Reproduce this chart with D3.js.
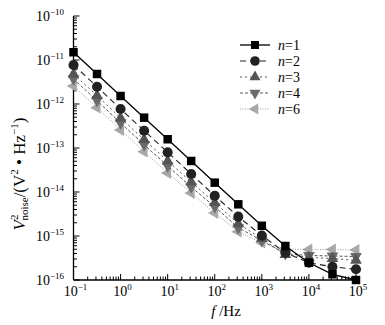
<!DOCTYPE html>
<html><head><meta charset="utf-8">
<script src="https://cdn.jsdelivr.net/npm/d3@7"></script>
<style>body{margin:0;background:#fff}svg text{font-family:"Liberation Serif","DejaVu Serif",serif;fill:#000}</style>
</head><body>
<svg id="c" width="385" height="325"></svg>
<script>
const freqs = [0.1, 0.316, 1, 3.16, 10, 31.6, 100, 316, 1000, 3162, 10000, 31623, 100000];
const n1 = [1.50e-11, 4.81e-12, 1.52e-12, 4.89e-13, 1.58e-13, 5.07e-14, 1.63e-14, 5.25e-15, 1.71e-15, 5.93e-16, 2.47e-16, 1.35e-16, 1.0e-16];
const n2 = [7.70e-12, 2.47e-12, 7.70e-13, 2.47e-13, 7.98e-14, 2.57e-14, 8.24e-15, 2.75e-15, 1.02e-15, 4.17e-16, 2.47e-16, 2.0e-16, 1.75e-16];
const n3 = [4.81e-12, 1.55e-12, 4.81e-13, 1.55e-13, 5.07e-14, 1.69e-14, 5.71e-15, 1.90e-15, 8.68e-16, 3.76e-16, 3.25e-16, 3.08e-16, 2.78e-16];
const n4 = [3.70e-12, 1.19e-12, 3.70e-13, 1.19e-13, 3.90e-14, 1.30e-14, 4.63e-15, 1.55e-15, 7.82e-16, 3.96e-16, 3.61e-16, 3.51e-16, 3.42e-16];
const n6 = [2.56e-12, 8.24e-13, 2.56e-13, 8.24e-14, 2.70e-14, 9.49e-15, 3.33e-15, 1.25e-15, 7.05e-16, 5.07e-16, 4.94e-16, 4.94e-16, 4.81e-16];
const seriesNames = ["1", "2", "3", "4", "6"];
const xTickExps = [-1, 0, 1, 2, 3, 4, 5];
const yTickExps = [-10, -11, -12, -13, -14, -15, -16];

const series = [
  {name: seriesNames[0], vals: n1, sym: d3.symbolSquare, size: 72, rot: 0, fill: "#000", stroke: "#000", dash: null, lw: 1.3},
  {name: seriesNames[1], vals: n2, sym: d3.symbolCircle, size: 80, rot: 0, fill: "#222", stroke: "#222", dash: "6,4", lw: 1.1},
  {name: seriesNames[2], vals: n3, sym: d3.symbolTriangle, size: 60, rot: 0, fill: "#555", stroke: "#555", dash: "2,3", lw: 1},
  {name: seriesNames[3], vals: n4, sym: d3.symbolTriangle, size: 60, rot: 180, fill: "#6a6a6a", stroke: "#555", dash: "3,2", lw: 1},
  {name: seriesNames[4], vals: n6, sym: d3.symbolTriangle, size: 60, rot: -90, fill: "#a8a8a8", stroke: "#999", dash: "1,1.5", lw: 1}
];

const svg = d3.select("#c");
const L = 73.5, R = 356, T = 16, B = 280;
const x = d3.scaleLog().domain([0.1, 1e5]).range([L, R]);
const y = d3.scaleLog().domain([1e-16, 1e-10]).range([B, T]);

// minor/major ticks
const g = svg.append("g");
for (let e = -1; e <= 5; e++) {
  for (let m = 1; m <= 9; m++) {
    const v = m * Math.pow(10, e);
    if (v > 1e5 * 1.0001) break;
    const len = m === 1 ? 6 : 3.5;
    g.append("line").attr("x1", x(v)).attr("x2", x(v)).attr("y1", B).attr("y2", B - len).attr("stroke", "#000").attr("stroke-width", 1);
  }
}
for (let e = -16; e <= -10; e++) {
  for (let m = 1; m <= 9; m++) {
    const v = m * Math.pow(10, e);
    if (v > 1e-10 * 1.0001) break;
    const len = m === 1 ? 6 : 3.5;
    g.append("line").attr("x1", L).attr("x2", L + len).attr("y1", y(v)).attr("y2", y(v)).attr("stroke", "#000").attr("stroke-width", 1);
  }
}
g.append("line").attr("x1", L).attr("x2", L).attr("y1", T).attr("y2", B).attr("stroke", "#000").attr("stroke-width", 1.3);
g.append("line").attr("x1", L).attr("x2", R).attr("y1", B).attr("y2", B).attr("stroke", "#000").attr("stroke-width", 1.3);

// tick labels
xTickExps.forEach(e => {
  const t = svg.append("text").attr("x", x(Math.pow(10, e)) + 2).attr("y", 296).attr("text-anchor", "middle").attr("font-size", 14);
  t.append("tspan").text("10");
  t.append("tspan").attr("dy", -6).attr("font-size", 9).text(e < 0 ? "\u2212" + (-e) : String(e));
});
yTickExps.forEach(e => {
  const t = svg.append("text").attr("x", 64).attr("y", y(Math.pow(10, e)) + 5).attr("text-anchor", "end").attr("font-size", 14);
  t.append("tspan").text("10");
  t.append("tspan").attr("dy", -6).attr("font-size", 9).text("\u2212" + (-e));
});

// axis titles
const xt = svg.append("text").attr("x", 226).attr("y", 316).attr("text-anchor", "middle").attr("font-size", 15);
xt.append("tspan").attr("font-style", "italic").text("f");
xt.append("tspan").text(" /Hz");

const yt = svg.append("text").attr("transform", "translate(25,174) rotate(-90)").attr("text-anchor", "middle").attr("font-size", 17);
yt.append("tspan").attr("font-style", "italic").text("V");
yt.append("tspan").attr("dy", -7).attr("font-size", 11).text("2");
yt.append("tspan").attr("dy", 10).attr("dx", -6).attr("font-size", 11).text("noise");
yt.append("tspan").attr("dy", -3).text("/(V");
yt.append("tspan").attr("dy", -7).attr("font-size", 11).text("2");
yt.append("tspan").attr("dy", 7).text(" \u2022 Hz");
yt.append("tspan").attr("dy", -7).attr("font-size", 11).text("\u22121");
yt.append("tspan").attr("dy", 7).text(")");

// series
const line = d3.line().x(d => x(d[0])).y(d => y(d[1]));
series.slice().reverse().forEach(s => {
  const pts = freqs.map((f, i) => [f, s.vals[i]]);
  svg.append("path").attr("d", line(pts)).attr("fill", "none").attr("stroke", s.stroke).attr("stroke-width", s.lw).attr("stroke-dasharray", s.dash);
  svg.append("g").selectAll("path").data(pts).join("path")
    .attr("d", d3.symbol().type(s.sym).size(s.size))
    .attr("transform", d => `translate(${x(d[0])},${y(d[1])}) rotate(${s.rot})`)
    .attr("fill", s.fill);
});

// legend
series.forEach((s, i) => {
  const ly = 45 + i * 16;
  svg.append("line").attr("x1", 240).attr("x2", 270).attr("y1", ly).attr("y2", ly).attr("stroke", s.stroke).attr("stroke-width", s.lw).attr("stroke-dasharray", s.dash);
  svg.append("path").attr("d", d3.symbol().type(s.sym).size(s.size * 0.9)).attr("transform", `translate(255,${ly}) rotate(${s.rot})`).attr("fill", s.fill);
  const t = svg.append("text").attr("x", 278).attr("y", ly + 5).attr("font-size", 14);
  t.append("tspan").attr("font-style", "italic").text("n");
  t.append("tspan").text("=" + s.name);
});
</script>
</body></html>
